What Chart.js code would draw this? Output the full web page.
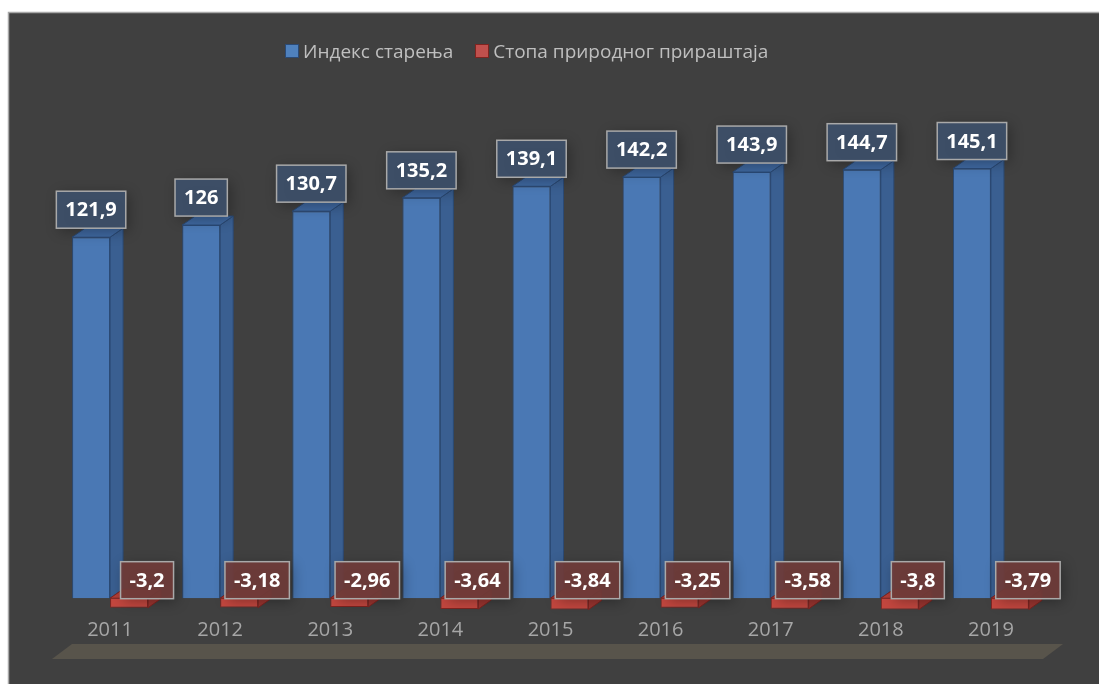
<!DOCTYPE html>
<html>
<head>
<meta charset="utf-8">
<script src="https://cdn.jsdelivr.net/npm/chart.js@4.4.1/dist/chart.umd.min.js"></script>
<style>
  html, body { margin: 0; padding: 0; background: #ffffff; }
  #wrap { position: relative; width: 1099px; height: 684px; overflow: hidden; }
  #legend {
    position: absolute; left: 285px; top: 38px;
    display: flex; align-items: center;
    font-family: "Open Sans", sans-serif; font-size: 19px; color: #bfbfbf;
  }
  #legend .item { display: flex; align-items: center; margin-right: 22px; }
  #legend .box { width: 12px; height: 12px; margin-right: 4px; border: 1.5px solid; }
</style>
</head>
<body>
<div id="wrap">
  <canvas id="chart" width="1099" height="684"></canvas>
  <div id="legend"></div>
</div>
<script>
// podaci
const years = ["2011", "2012", "2013", "2014", "2015", "2016", "2017", "2018", "2019"];
const indeksStarenja = [121.9, 126, 130.7, 135.2, 139.1, 142.2, 143.9, 144.7, 145.1];
const stopaPrirasta = [-3.2, -3.18, -2.96, -3.64, -3.84, -3.25, -3.58, -3.8, -3.79];
const seriesNames = ["Индекс старења", "Стопа природног прираштаја"];

const DX = 13; // dubina 3D efekta
const DY = 9;

const palette = [
  { front: "#4a78b4", side: "#3a5f91", top: "#3f68a0", edge: "#2b4a75", box: "rgba(62,80,106,0.92)" },
  { front: "#c4473f", side: "#9c3530", top: "#b23e37", edge: "#7f2420", box: "rgba(112,60,58,0.92)" },
];

// legenda (html)
const legendEl = document.getElementById("legend");
seriesNames.forEach((name, i) => {
  const item = document.createElement("div");
  item.className = "item";
  const box = document.createElement("span");
  box.className = "box";
  box.style.background = i == 0 ? "#4f81bd" : "#c0504d";
  box.style.borderColor = palette[i].edge;
  item.appendChild(box);
  item.appendChild(document.createTextNode(name));
  legendEl.appendChild(item);
});

function fmt(v) {
  return String(v).replace(".", ",");
}

// pozadina + pod
const backgroundPlugin = {
  id: "background",
  beforeDraw(chart) {
    const ctx = chart.ctx;
    const a = chart.chartArea;
    ctx.save();
    ctx.fillStyle = "#404040";
    ctx.fillRect(8, 12, 1099, 684);
    ctx.strokeStyle = "#a8a8a8";
    ctx.lineWidth = 1.5;
    ctx.beginPath();
    ctx.moveTo(8.5, 700);
    ctx.lineTo(8.5, 12.5);
    ctx.lineTo(1100, 12.5);
    ctx.stroke();

    // pod ispod stubaca
    const yTop = a.bottom + 31;
    const yBot = a.bottom + 46;
    ctx.fillStyle = "#58544b";
    ctx.beginPath();
    ctx.moveTo(a.left - 3, yBot);
    ctx.lineTo(a.left + 17, yTop);
    ctx.lineTo(a.right + 17, yTop);
    ctx.lineTo(a.right - 3, yBot);
    ctx.closePath();
    ctx.fill();
    ctx.restore();
  },
};

// bocne i gornje strane stubaca + oznake
const bars3dPlugin = {
  id: "bars3d",
  afterDatasetsDraw(chart) {
    const ctx = chart.ctx;
    ctx.save();
    chart.data.datasets.forEach((ds, di) => {
      const meta = chart.getDatasetMeta(di);
      const c = palette[di];
      meta.data.forEach((bar) => {
        const left = bar.x - bar.width / 2;
        const right = bar.x + bar.width / 2;
        const top = Math.min(bar.y, bar.base);
        const bottom = Math.max(bar.y, bar.base);

        ctx.lineWidth = 1;
        ctx.strokeStyle = c.edge;
        // desna strana
        ctx.fillStyle = c.side;
        ctx.beginPath();
        ctx.moveTo(right, top);
        ctx.lineTo(right + DX, top - DY);
        ctx.lineTo(right + DX, bottom - DY);
        ctx.lineTo(right, bottom);
        ctx.closePath();
        ctx.fill();
        ctx.stroke();
        // gornja strana
        ctx.fillStyle = c.top;
        ctx.beginPath();
        ctx.moveTo(left, top);
        ctx.lineTo(left + DX, top - DY);
        ctx.lineTo(right + DX, top - DY);
        ctx.lineTo(right, top);
        ctx.closePath();
        ctx.fill();
        ctx.stroke();
      });
    });

    // oznake vrednosti
    ctx.font = "bold 20px 'Open Sans', sans-serif";
    ctx.textAlign = "center";
    ctx.textBaseline = "middle";
    chart.data.datasets.forEach((ds, di) => {
      const meta = chart.getDatasetMeta(di);
      meta.data.forEach((bar, i) => {
        const txt = fmt(ds.data[i]);
        const w = ctx.measureText(txt).width + 18;
        const h = 37;
        let cx, cy;
        if (di == 0) {
          cx = bar.x;
          cy = bar.y - DY - h / 2;
        } else {
          cx = bar.x + 18;
          cy = bar.base - 18;
        }
        ctx.save();
        ctx.shadowColor = "rgba(0,0,0,0.35)";
        ctx.shadowBlur = 14;
        ctx.shadowOffsetX = 3;
        ctx.shadowOffsetY = 3;
        ctx.fillStyle = palette[di].box;
        ctx.fillRect(cx - w / 2, cy - h / 2, w, h);
        ctx.restore();
        ctx.strokeStyle = "#a9a9a9";
        ctx.lineWidth = 1.5;
        ctx.strokeRect(cx - w / 2, cy - h / 2, w, h);
        ctx.fillStyle = "#ffffff";
        ctx.fillText(txt, cx, cy + 1);
      });
    });
    ctx.restore();
  },
};

new Chart(document.getElementById("chart"), {
  type: "bar",
  data: {
    labels: years,
    datasets: [
      {
        label: seriesNames[0],
        data: indeksStarenja,
        backgroundColor: palette[0].front,
        borderColor: palette[0].edge,
        borderWidth: 1,
      },
      {
        label: seriesNames[1],
        data: stopaPrirasta,
        backgroundColor: palette[1].front,
        borderColor: palette[1].edge,
        borderWidth: 1,
      },
    ],
  },
  options: {
    responsive: false,
    animation: false,
    layout: { padding: { left: 55, right: 53, top: 154, bottom: 37 } },
    datasets: {
      bar: { categoryPercentage: 0.69, barPercentage: 1 },
    },
    plugins: {
      legend: { display: false },
      tooltip: { enabled: false },
    },
    scales: {
      x: {
        grid: { display: false, drawTicks: false },
        border: { display: false },
        ticks: {
          padding: 5,
          color: "#a6a6a6",
          font: { family: "'Open Sans', sans-serif", size: 20 },
        },
      },
      y: {
        display: false,
        min: -5,
        max: 150,
      },
    },
  },
  plugins: [backgroundPlugin, bars3dPlugin],
});
</script>
</body>
</html>
